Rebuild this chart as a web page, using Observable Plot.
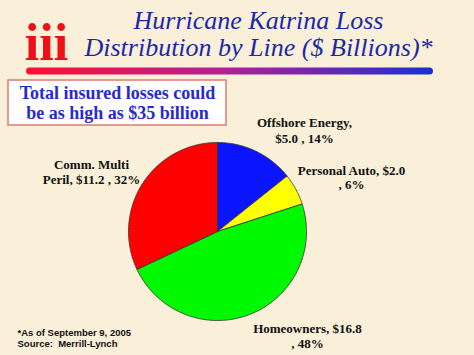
<!DOCTYPE html>
<html>
<head>
<meta charset="utf-8">
<script src="https://cdn.jsdelivr.net/npm/d3@7"></script>
<script src="https://cdn.jsdelivr.net/npm/@observablehq/plot@0.6"></script>
<style>
  html, body { margin: 0; padding: 0; background: #faf0d9; }
  #chart svg { display: block; }
</style>
</head>
<body>
<div id="chart"></div>
<script>
// ---- data ----
const titleLines = ["Hurricane Katrina Loss", "Distribution by Line ($ Billions)*"];
const calloutLines = ["Total insured losses could", "be as high as $35 billion"];
const categories = ["Offshore Energy", "Personal Auto", "Homeowners", "Comm. Multi Peril"];
const values = [5.0, 2.0, 16.8, 11.2];
const percents = [14, 6, 48, 32];
const sliceColors = ["#0a14ff", "#ffff00", "#00f800", "#ff0000"];
const labelLines = [
  ["Offshore Energy,", "$5.0 , 14%"],
  ["Personal Auto, $2.0", ", 6%"],
  ["Homeowners, $16.8", ", 48%"],
  ["Comm. Multi", "Peril, $11.2 , 32%"]
];
const footnoteLines = ["*As of September 9, 2005", "Source:  Merrill-Lynch"];
const logoText = "iii";

// ---- layout (pixel space) ----
const W = 474, H = 355;
const SERIF = "Liberation Serif";
const SANS = "Liberation Sans";
const pie = {cx: 217, cy: 231, r: 89};
const labelPos = [
  {x: 304, y: [122.5, 138]},
  {x: 351, y: [170, 184]},
  {x: 307, y: [328, 343]},
  {x: 91,  y: [164, 179]}
];

// ---- pie geometry from values ----
const arcs = d3.pie().sort(null).value(d => d.value)(
  categories.map((c, i) => ({category: c, value: values[i], color: sliceColors[i]}))
);
const slicePts = [];
for (const a of arcs) {
  const pts = [[pie.cx, pie.cy]];
  const n = Math.max(2, Math.ceil((a.endAngle - a.startAngle) / (Math.PI / 180)));
  for (let k = 0; k <= n; k++) {
    const t = a.startAngle + (a.endAngle - a.startAngle) * k / n;
    pts.push([pie.cx + pie.r * Math.sin(t), pie.cy - pie.r * Math.cos(t)]);
  }
  pts.push([pie.cx, pie.cy]);
  for (const p of pts) slicePts.push({x: p[0], y: p[1], category: a.data.category, color: a.data.color});
}

const labelRows = [];
labelLines.forEach((lines, i) => lines.forEach((t, j) =>
  labelRows.push({text: t, x: labelPos[i].x, y: labelPos[i].y[j]})));

const gradientDefs = () => {
  const ns = "http://www.w3.org/2000/svg";
  const defs = document.createElementNS(ns, "defs");
  defs.innerHTML = `<linearGradient id="titlebar" gradientUnits="userSpaceOnUse" x1="25" y1="0" x2="433" y2="0">
    <stop offset="0" stop-color="#ff1030"/>
    <stop offset="0.5" stop-color="#b0209a"/>
    <stop offset="1" stop-color="#1a30d0"/>
  </linearGradient>`;
  return defs;
};

const chart = Plot.plot({
  width: W,
  height: H,
  margin: 0,
  x: {domain: [0, W], axis: null},
  y: {domain: [0, H], reverse: true, axis: null},
  style: {background: "#faf0d9", overflow: "visible"},
  marks: [
    gradientDefs,
    // logo
    Plot.text([logoText], {x: 46, y: 43, text: d => d, fontSize: 52, fontWeight: "bold",
      fontFamily: SERIF, fill: "#ee1018"}),
    // title
    Plot.text(titleLines, {x: 258, y: (d, i) => [20, 47][i], text: d => d, fontSize: 26,
      fontStyle: "italic", fontFamily: SERIF, fill: "#1a28a8"}),
    // gradient bar
    Plot.line([[29, 70.5], [429, 70.5]], {x: d => d[0], y: d => d[1],
      stroke: "url(#titlebar)", strokeWidth: 7, strokeLinecap: "round"}),
    // callout box
    Plot.rect([0], {x1: 8, x2: 226, y1: 80, y2: 125, fill: "white", stroke: "#e07a70", strokeWidth: 1.5}),
    Plot.text(calloutLines, {x: 117, y: (d, i) => [93, 113][i], text: d => d, fontSize: 18,
      fontWeight: "bold", fontFamily: SERIF, fill: "#2a2ac8"}),
    // pie
    Plot.line(slicePts, {x: "x", y: "y", z: "category", fill: "color",
      stroke: "#333", strokeWidth: 0.8, strokeLinejoin: "round"}),
    // slice labels
    Plot.text(labelRows, {x: "x", y: "y", text: "text", fontSize: 13, fontWeight: "bold",
      fontFamily: SERIF, fill: "#111"}),
    // footnote
    Plot.text(footnoteLines, {x: 17, y: (d, i) => [332.5, 343][i], text: d => d, textAnchor: "start",
      fontSize: 9.5, fontWeight: "bold", fontFamily: SANS, fill: "#111"})
  ]
});
document.getElementById("chart").appendChild(chart);
</script>
</body>
</html>
